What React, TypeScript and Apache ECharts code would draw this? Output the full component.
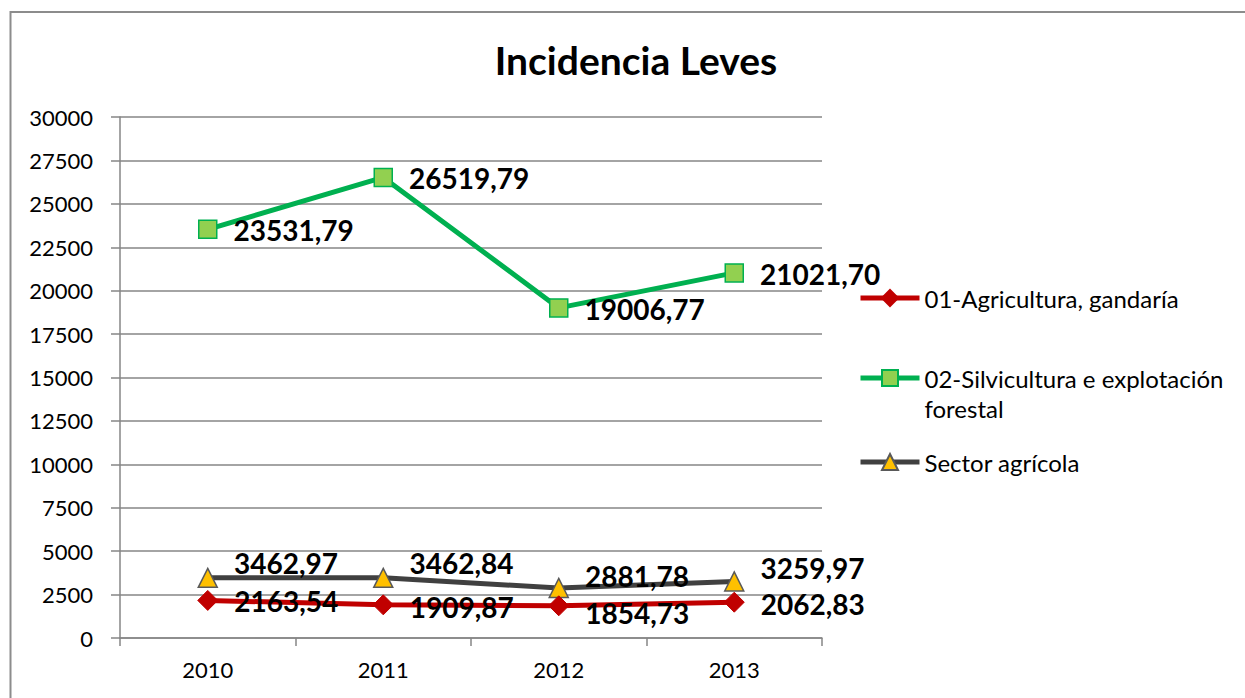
import React, { useEffect, useRef } from "react";
import * as echarts from "echarts";

const years = ["2010", "2011", "2012", "2013"];
const agricultura = [2163.54, 1909.87, 1854.73, 2062.83];
const silvicultura = [23531.79, 26519.79, 19006.77, 21021.7];
const sector = [3462.97, 3462.84, 2881.78, 3259.97];
const seriesNames = [
  "01-Agricultura, gandaría",
  "02-Silvicultura e explotación forestal",
  "Sector agrícola",
];
const agriLabelDy = [1, 2, 7, 2];
const silviLabelDy = [1, 1, 1, 1];
const sectorLabelDy = [-15, -15, -12, -13];

const fmt = (v: number) => v.toFixed(2).replace(".", ",");

const FONT = "Lato";

function mkData(values: number[], dy: number[]) {
  return values.map((v, i) => ({
    value: v,
    label: { offset: [0, dy[i]] },
  }));
}

const labelStyle = {
  show: true,
  position: "right" as const,
  distance: 16,
  fontFamily: FONT,
  fontWeight: "bold" as const,
  fontSize: 28,
  color: "#000",
  formatter: (p: any) => fmt(p.value),
};

export default function App() {
  const ref = useRef<HTMLDivElement>(null);
  useEffect(() => {
    if (!ref.current) return;
    const chart = echarts.init(ref.current, undefined, { renderer: "svg" });
    const legendBase = {
      orient: "vertical" as const,
      left: 853,
      itemWidth: 59,
      itemHeight: 20,
      lineStyle: { width: 5 },
      textStyle: { fontFamily: FONT, fontSize: 24, color: "#000", lineHeight: 30 },
    };
    chart.setOption({
      animation: false,
      backgroundColor: "#fff",
      title: {
        text: "Incidencia Leves",
        left: 631,
        textAlign: "center",
        top: 35,
        textStyle: {
          fontFamily: FONT,
          fontWeight: "bold",
          fontSize: 39,
          color: "#000",
        },
      },
      graphic: [
        {
          type: "rect",
          shape: { x: 10.5, y: 12, width: 1300, height: 800 },
          style: { fill: "none", stroke: "#8c8c8c", lineWidth: 2 },
          silent: true,
        },
      ],
      legend: [
        { ...legendBase, top: 278, data: [seriesNames[0]] },
        {
          ...legendBase,
          top: 328,
          data: [seriesNames[1]],
          formatter: () => "\n02-Silvicultura e explotación\nforestal",
        },
        { ...legendBase, top: 442, data: [seriesNames[2]] },
      ],
      grid: { left: 120, right: 423, top: 117, bottom: 60 },
      xAxis: {
        type: "category",
        data: years,
        boundaryGap: true,
        axisLine: { lineStyle: { color: "#868686", width: 1.5 } },
        axisTick: { show: true, length: 8, lineStyle: { color: "#868686", width: 1.5 } },
        axisLabel: { fontFamily: FONT, fontSize: 22, color: "#000", margin: 20 },
      },
      yAxis: {
        type: "value",
        min: 0,
        max: 30000,
        interval: 2500,
        axisLine: { show: true, lineStyle: { color: "#868686", width: 1.5 } },
        axisTick: { show: true, length: 9, lineStyle: { color: "#868686", width: 1.5 } },
        splitLine: { lineStyle: { color: "#868686", width: 1.5 } },
        axisLabel: {
          fontFamily: FONT,
          fontSize: 22,
          color: "#000",
          margin: 27,
          formatter: (v: number) => String(v),
        },
      },
      series: [
        {
          name: seriesNames[0],
          type: "line",
          data: mkData(agricultura, agriLabelDy),
          symbol: "diamond",
          symbolSize: 20,
          lineStyle: { color: "#C00000", width: 5 },
          itemStyle: { color: "#C00000", borderColor: "#C00000", borderWidth: 1 },
          label: labelStyle,
          z: 3,
        },
        {
          name: seriesNames[1],
          type: "line",
          data: mkData(silvicultura, silviLabelDy),
          symbol: "rect",
          symbolSize: 18,
          lineStyle: { color: "#00B050", width: 5 },
          itemStyle: { color: "#92D050", borderColor: "#00B050", borderWidth: 1.5 },
          label: labelStyle,
        },
        {
          name: seriesNames[2],
          type: "line",
          data: mkData(sector, sectorLabelDy),
          symbol: "triangle",
          symbolSize: 19,
          lineStyle: { color: "#404040", width: 5 },
          itemStyle: { color: "#FFC000", borderColor: "#595959", borderWidth: 1.5 },
          label: labelStyle,
          z: 2,
        },
      ],
    });
    return () => chart.dispose();
  }, []);
  return (
    <div
      ref={ref}
      style={{ position: "fixed", left: 0, top: 0, width: 1245, height: 698 }}
    />
  );
}
